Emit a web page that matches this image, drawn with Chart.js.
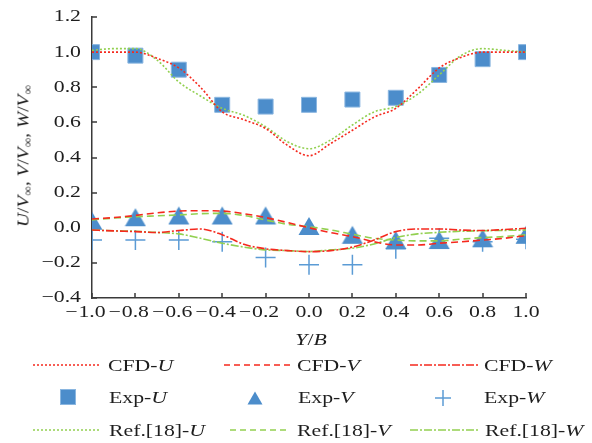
<!DOCTYPE html>
<html lang="en">
<head>
    <meta charset="UTF-8">
    <title>Velocity profiles across Y/B</title>
    <script src="https://cdn.jsdelivr.net/npm/chart.js"></script>
    <style>
        body { margin: 0; background: #fff; overflow: hidden; }
        #wrap { position: relative; width: 592px; height: 443px; }
        #wrap canvas { position: absolute; left: 0; top: 0; }
        .txt { position: absolute; font-family: "Liberation Serif", "Times New Roman", serif; font-size: 17px; line-height: 1; color: #1e1e1e; white-space: nowrap; transform-origin: left center; transform: translateY(-50%) scaleX(1.28); }
        #ytitle { position: absolute; left: 23px; top: 156px; font-family: "Liberation Serif", "Times New Roman", serif; font-size: 17px; line-height: 1; color: #1e1e1e; white-space: nowrap; transform: translate(-50%, -50%) rotate(-90deg) scaleX(1.14); }
        #ytitle sub { font-size: 0.7em; line-height: 0; vertical-align: -0.25em; font-style: normal; }
        #xtitle { position: absolute; left: 311px; top: 339px; font-family: "Liberation Serif", "Times New Roman", serif; font-size: 17px; line-height: 1; color: #1e1e1e; white-space: nowrap; transform: translate(-50%, -50%) scaleX(1.28); }
        svg.key { position: absolute; overflow: visible; }
    </style>
</head>
<body>
<div id="wrap">
    <canvas id="chart"></canvas>
    <div id="ytitle"><i>U</i>/<i>V</i><sub>∞</sub>, <i>V</i>/<i>V</i><sub>∞</sub>, <i>W</i>/<i>V</i><sub>∞</sub></div>
    <div id="xtitle"><i>Y</i>/<i>B</i></div>

    <!-- legend keys, three columns by three rows -->
    <svg class="key" style="left:0;top:0" width="592" height="443">
        <line x1="33" y1="365" x2="100" y2="365" stroke="#f5291e" stroke-width="1.6" stroke-dasharray="2,2"/>
        <line x1="224" y1="365" x2="290" y2="365" stroke="#f5291e" stroke-width="1.6" stroke-dasharray="6,4"/>
        <line x1="410" y1="365" x2="478" y2="365" stroke="#f5291e" stroke-width="1.6" stroke-dasharray="8,2,2,2"/>
        <rect x="60.5" y="389.5" width="15" height="15" fill="#4c8dcb" stroke="#8ab6e0" stroke-width="1"/>
        <polygon points="255,391.5 262.5,404.5 247.5,404.5" fill="#4c8dcb"/>
        <line x1="435" y1="398" x2="451" y2="398" stroke="#5b9bd5" stroke-width="1.5"/>
        <line x1="443" y1="390" x2="443" y2="406" stroke="#5b9bd5" stroke-width="1.5"/>
        <line x1="33" y1="430" x2="100" y2="430" stroke="#92d050" stroke-width="1.6" stroke-dasharray="2,2"/>
        <line x1="230" y1="430" x2="290" y2="430" stroke="#92d050" stroke-width="1.6" stroke-dasharray="6,4"/>
        <line x1="410" y1="430" x2="478" y2="430" stroke="#92d050" stroke-width="1.6" stroke-dasharray="8,2,2,2"/>
    </svg>
    <div class="txt" style="left:108px;top:365px">CFD-<i>U</i></div>
    <div class="txt" style="left:297px;top:365px">CFD-<i>V</i></div>
    <div class="txt" style="left:484px;top:365px">CFD-<i>W</i></div>
    <div class="txt" style="left:109px;top:397px">Exp-<i>U</i></div>
    <div class="txt" style="left:298px;top:397px">Exp-<i>V</i></div>
    <div class="txt" style="left:484px;top:397px">Exp-<i>W</i></div>
    <div class="txt" style="left:109px;top:430px">Ref.[18]-<i>U</i></div>
    <div class="txt" style="left:297px;top:430px">Ref.[18]-<i>V</i></div>
    <div class="txt" style="left:485px;top:430px">Ref.[18]-<i>W</i></div>
</div>

<script>
    // measurement stations
    const expY = [-1.0, -0.8, -0.6, -0.4, -0.2, 0.0, 0.2, 0.4, 0.6, 0.8, 1.0];
    const expU = [1.00, 0.98, 0.90, 0.70, 0.69, 0.70, 0.73, 0.74, 0.87, 0.96, 1.00];
    const expV = [0.04, 0.06, 0.07, 0.07, 0.07, 0.01, -0.04, -0.07, -0.07, -0.06, -0.04];
    const expW = [-0.07, -0.07, -0.07, -0.08, -0.17, -0.21, -0.21, -0.12, -0.06, -0.08, -0.065];

    // simulated profiles
    const simY = [-1.0, -0.9, -0.8, -0.7, -0.6, -0.5, -0.4, -0.3, -0.2, -0.1, 0.0,
                  0.1, 0.2, 0.3, 0.4, 0.5, 0.6, 0.7, 0.8, 0.9, 1.0];
    const cfdU = [1.00, 1.00, 1.00, 0.965, 0.91, 0.80, 0.66, 0.615, 0.565, 0.47, 0.41,
                  0.48, 0.555, 0.63, 0.68, 0.79, 0.91, 0.97, 1.00, 1.00, 1.00];
    const cfdV = [0.05, 0.058, 0.07, 0.085, 0.095, 0.097, 0.095, 0.08, 0.058, 0.03, 0.0,
                  -0.028, -0.05, -0.08, -0.098, -0.098, -0.088, -0.08, -0.07, -0.06, -0.045];
    const cfdW = [-0.013, -0.018, -0.022, -0.027, -0.016, -0.007, -0.04, -0.094, -0.12, -0.13, -0.136,
                  -0.13, -0.11, -0.07, -0.022, -0.007, -0.007, -0.013, -0.016, -0.01, -0.003];
    const refU = [1.01, 1.02, 1.02, 0.955, 0.83, 0.75, 0.68, 0.64, 0.575, 0.49, 0.45,
                  0.50, 0.585, 0.66, 0.69, 0.76, 0.87, 0.98, 1.02, 1.01, 1.00];
    const refV = [0.045, 0.055, 0.063, 0.068, 0.073, 0.08, 0.082, 0.07, 0.044, 0.02, 0.006,
                  -0.013, -0.037, -0.06, -0.07, -0.075, -0.075, -0.065, -0.056, -0.05, -0.04];
    const refW = [-0.013, -0.017, -0.02, -0.027, -0.035, -0.06, -0.088, -0.11, -0.126, -0.13, -0.135,
                  -0.126, -0.117, -0.092, -0.056, -0.035, -0.026, -0.02, -0.017, -0.015, -0.013];

    // axis ticks
    const xTicks = [-1.0, -0.8, -0.6, -0.4, -0.2, 0.0, 0.2, 0.4, 0.6, 0.8, 1.0];
    const yTicks = [-0.4, -0.2, 0.0, 0.2, 0.4, 0.6, 0.8, 1.0, 1.2];

    const RED = '#f5291e';
    const GREEN = '#92d050';
    const BLUE = '#4c8dcb';
    const AXIS = '#3a3a3a';
    const FONT = '17px "Liberation Serif", "Times New Roman", serif';
    const STRETCH = 1.28;

    const pts = (xs, ys) => xs.map((x, i) => ({ x: x, y: ys[i] }));

    // triangle marker with its box centred on the point
    function triangleMarker() {
        const c = document.createElement('canvas');
        c.width = 22; c.height = 20;
        const g = c.getContext('2d');
        g.fillStyle = BLUE;
        g.beginPath();
        g.moveTo(11, 1); g.lineTo(21.5, 19); g.lineTo(0.5, 19);
        g.closePath();
        g.fill();
        return c;
    }

    function curve(label, ys, color, dash) {
        return {
            label: label,
            data: pts(simY, ys),
            showLine: true,
            borderColor: color,
            borderWidth: 1.6,
            borderDash: dash,
            pointRadius: 0,
            cubicInterpolationMode: 'monotone',
            order: 0
        };
    }

    function fmt(v) {
        return Math.abs(v).toFixed(1);
    }

    function drawStretched(ctx, text, x, y, align) {
        const w = ctx.measureText(text).width * STRETCH;
        const left = align === 'right' ? x - w : align === 'center' ? x - w / 2 : x;
        ctx.save();
        ctx.translate(left, y);
        ctx.scale(STRETCH, 1);
        ctx.fillText(text, 0, 0);
        ctx.restore();
        return w;
    }

    // inward tick marks and stretched serif tick labels
    const axisDecor = {
        id: 'axisDecor',
        beforeDatasetsDraw(chart) {
            const { ctx, scales: { x, y } } = chart;
            ctx.save();
            ctx.strokeStyle = AXIS;
            ctx.lineWidth = 1.5;
            ctx.beginPath();
            x.ticks.forEach(t => {
                const px = Math.round(x.getPixelForValue(t.value));
                ctx.moveTo(px, x.top);
                ctx.lineTo(px, x.top - 5);
            });
            y.ticks.forEach(t => {
                const py = Math.round(y.getPixelForValue(t.value));
                ctx.moveTo(y.right, py);
                ctx.lineTo(y.right + 5, py);
            });
            ctx.stroke();
            ctx.restore();
        },
        afterDraw(chart) {
            const { ctx, scales: { x, y } } = chart;
            ctx.save();
            ctx.font = FONT;
            ctx.fillStyle = '#1e1e1e';
            ctx.textAlign = 'left';
            ctx.textBaseline = 'middle';
            y.ticks.forEach(t => {
                const py = y.getPixelForValue(t.value);
                const s = (t.value < -1e-9 ? '\u2212' : '') + fmt(t.value);
                drawStretched(ctx, s, 81, py, 'right');
            });
            x.ticks.forEach(t => {
                const px = x.getPixelForValue(t.value);
                const w = drawStretched(ctx, fmt(t.value), px, 313, 'center');
                if (t.value < -1e-9) {
                    drawStretched(ctx, '\u2212', px - w / 2 - 1, 313, 'right');
                }
            });
            ctx.restore();
        }
    };

    new Chart(document.getElementById('chart'), {
        type: 'scatter',
        data: {
            datasets: [
                curve('CFD-U', cfdU, RED, [2, 2]),
                curve('CFD-V', cfdV, RED, [7, 4]),
                curve('CFD-W', cfdW, RED, [8, 2, 2, 2]),
                curve('Ref.[18]-U', refU, GREEN, [2, 2]),
                curve('Ref.[18]-V', refV, GREEN, [7, 4]),
                curve('Ref.[18]-W', refW, GREEN, [8, 2, 2, 2]),
                {
                    label: 'Exp-V',
                    data: pts(expY, expV),
                    pointStyle: triangleMarker(),
                    pointRadius: 11,
                    order: 1
                },
                {
                    label: 'Exp-W',
                    data: pts(expY, expW),
                    pointStyle: 'cross',
                    pointRadius: 10,
                    pointBorderWidth: 1.5,
                    pointBorderColor: '#5b9bd5',
                    order: 2
                },
                {
                    label: 'Exp-U',
                    data: pts(expY, expU),
                    pointStyle: 'rect',
                    pointRadius: 10.6,
                    pointBackgroundColor: BLUE,
                    pointBorderColor: '#8ab6e0',
                    pointBorderWidth: 1,
                    order: 3
                }
            ]
        },
        options: {
            responsive: true,
            maintainAspectRatio: false,
            animation: false,
            layout: { padding: { left: 92, right: 66, top: 17, bottom: 145 } },
            plugins: { legend: { display: false }, tooltip: { enabled: false } },
            scales: {
                x: {
                    type: 'linear',
                    min: -1.0,
                    max: 1.0,
                    afterBuildTicks: s => { s.ticks = xTicks.map(v => ({ value: v })); },
                    afterFit: s => { s.height = 0; },
                    grid: { display: false, drawTicks: false },
                    border: { display: true, color: AXIS, width: 1.5 },
                    ticks: { display: false }
                },
                y: {
                    type: 'linear',
                    min: -0.4,
                    max: 1.2,
                    afterBuildTicks: s => { s.ticks = yTicks.map(v => ({ value: v })); },
                    afterFit: s => { s.width = 0; },
                    grid: { display: false, drawTicks: false },
                    border: { display: true, color: AXIS, width: 1.5 },
                    ticks: { display: false }
                }
            }
        },
        plugins: [axisDecor]
    });
</script>
</body>
</html>
